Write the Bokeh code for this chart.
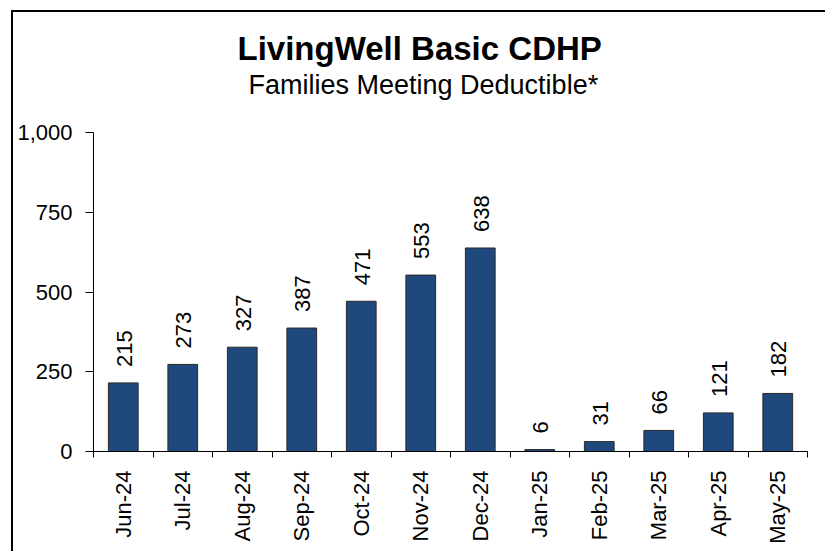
from math import pi
from bokeh.plotting import figure
from bokeh.models import (ColumnDataSource, FixedTicker, NumeralTickFormatter,
                          Range1d, LinearAxis, Title)
from bokeh.core.properties import value
from bokeh.embed import file_html
from bokeh.resources import INLINE

months = ["Jun-24", "Jul-24", "Aug-24", "Sep-24", "Oct-24", "Nov-24",
          "Dec-24", "Jan-25", "Feb-25", "Mar-25", "Apr-25", "May-25"]
families = [215, 273, 327, 387, 471, 553, 638, 6, 31, 66, 121, 182]
y_ticks = [0, 250, 500, 750, 1000]

FONT = "Liberation Sans"

centers = [i + 0.5 for i in range(len(months))]
bounds = list(range(len(months) + 1))

src = ColumnDataSource(dict(x=centers, top=families,
                            label=[str(v) for v in families]))

p = figure(width=825, height=551, output_backend="svg", toolbar_location=None,
           x_range=Range1d(0, len(months)), y_range=Range1d(0, 1000),
           x_axis_type=None, y_axis_type=None,
           min_border_left=93, min_border_right=18, min_border_bottom=100,
           min_border_top=132)
p.outline_line_color = None
p.background_fill_color = "white"
p.border_fill_color = None
# outer chart border (top and left; the right/bottom edges lie outside the view)
p.styles = {
    "background-color": "white",
    "background-image": "linear-gradient(black, black), linear-gradient(black, black)",
    "background-size": "2px 100%, 100% 2px",
    "background-position": "11px 10px, 11px 10px",
    "background-repeat": "no-repeat",
}

# titles (first added is nearest the frame)
spacer = Title(text=" ", text_font_size="2px", standoff=28)
sub = Title(text="Families Meeting Deductible*", align="left", offset=155,
            text_font=FONT, text_font_size="27px", text_font_style="normal",
            text_color="black", standoff=2)
main = Title(text="LivingWell Basic CDHP", align="left", offset=144,
             text_font=FONT, text_font_size="33px", text_font_style="bold",
             text_color="black", standoff=0)
p.add_layout(spacer, "above")
p.add_layout(sub, "above")
p.add_layout(main, "above")

# y axis
yax = LinearAxis(ticker=FixedTicker(ticks=y_ticks),
                 formatter=NumeralTickFormatter(format="0,0"))
yax.axis_line_color = "black"
yax.major_tick_out = 8
yax.major_tick_in = 0
yax.major_tick_line_color = "black"
yax.minor_tick_line_color = None
yax.major_label_standoff = 13
yax.major_label_text_font = FONT
yax.major_label_text_font_size = "22px"
yax.major_label_text_color = "black"
p.add_layout(yax, "left")

# x axis: labels at centers, tick marks at boundaries (as minor ticks)
xax = LinearAxis(ticker=FixedTicker(ticks=centers, minor_ticks=bounds))
xax.major_label_overrides = {c: m for c, m in zip(centers, months)}
xax.major_label_orientation = pi / 2
xax.axis_line_color = "black"
xax.major_tick_line_color = None
xax.major_tick_out = 6
xax.major_tick_in = 0
xax.minor_tick_line_color = "black"
xax.minor_tick_out = 6
xax.minor_tick_in = 0
xax.major_label_standoff = 13
xax.major_label_text_font = FONT
xax.major_label_text_font_size = "22px"
xax.major_label_text_color = "black"
p.add_layout(xax, "below")

p.ygrid.ticker = FixedTicker(ticks=y_ticks)
p.ygrid.grid_line_color = "#202020"
p.ygrid.grid_line_width = 1
p.xgrid.grid_line_color = None

p.vbar(x="x", top="top", bottom=0, width=0.5, source=src,
       fill_color="#1F497D", line_color="#2a2a2a", line_width=1)

p.text(x="x", y="top", text="label", source=src, angle=pi / 2,
       text_align="left", text_baseline="middle", x_offset=1, y_offset=-16,
       text_font=value(FONT), text_font_size="22px", text_color="black")

open("out.html", "w").write(file_html(p, INLINE))
